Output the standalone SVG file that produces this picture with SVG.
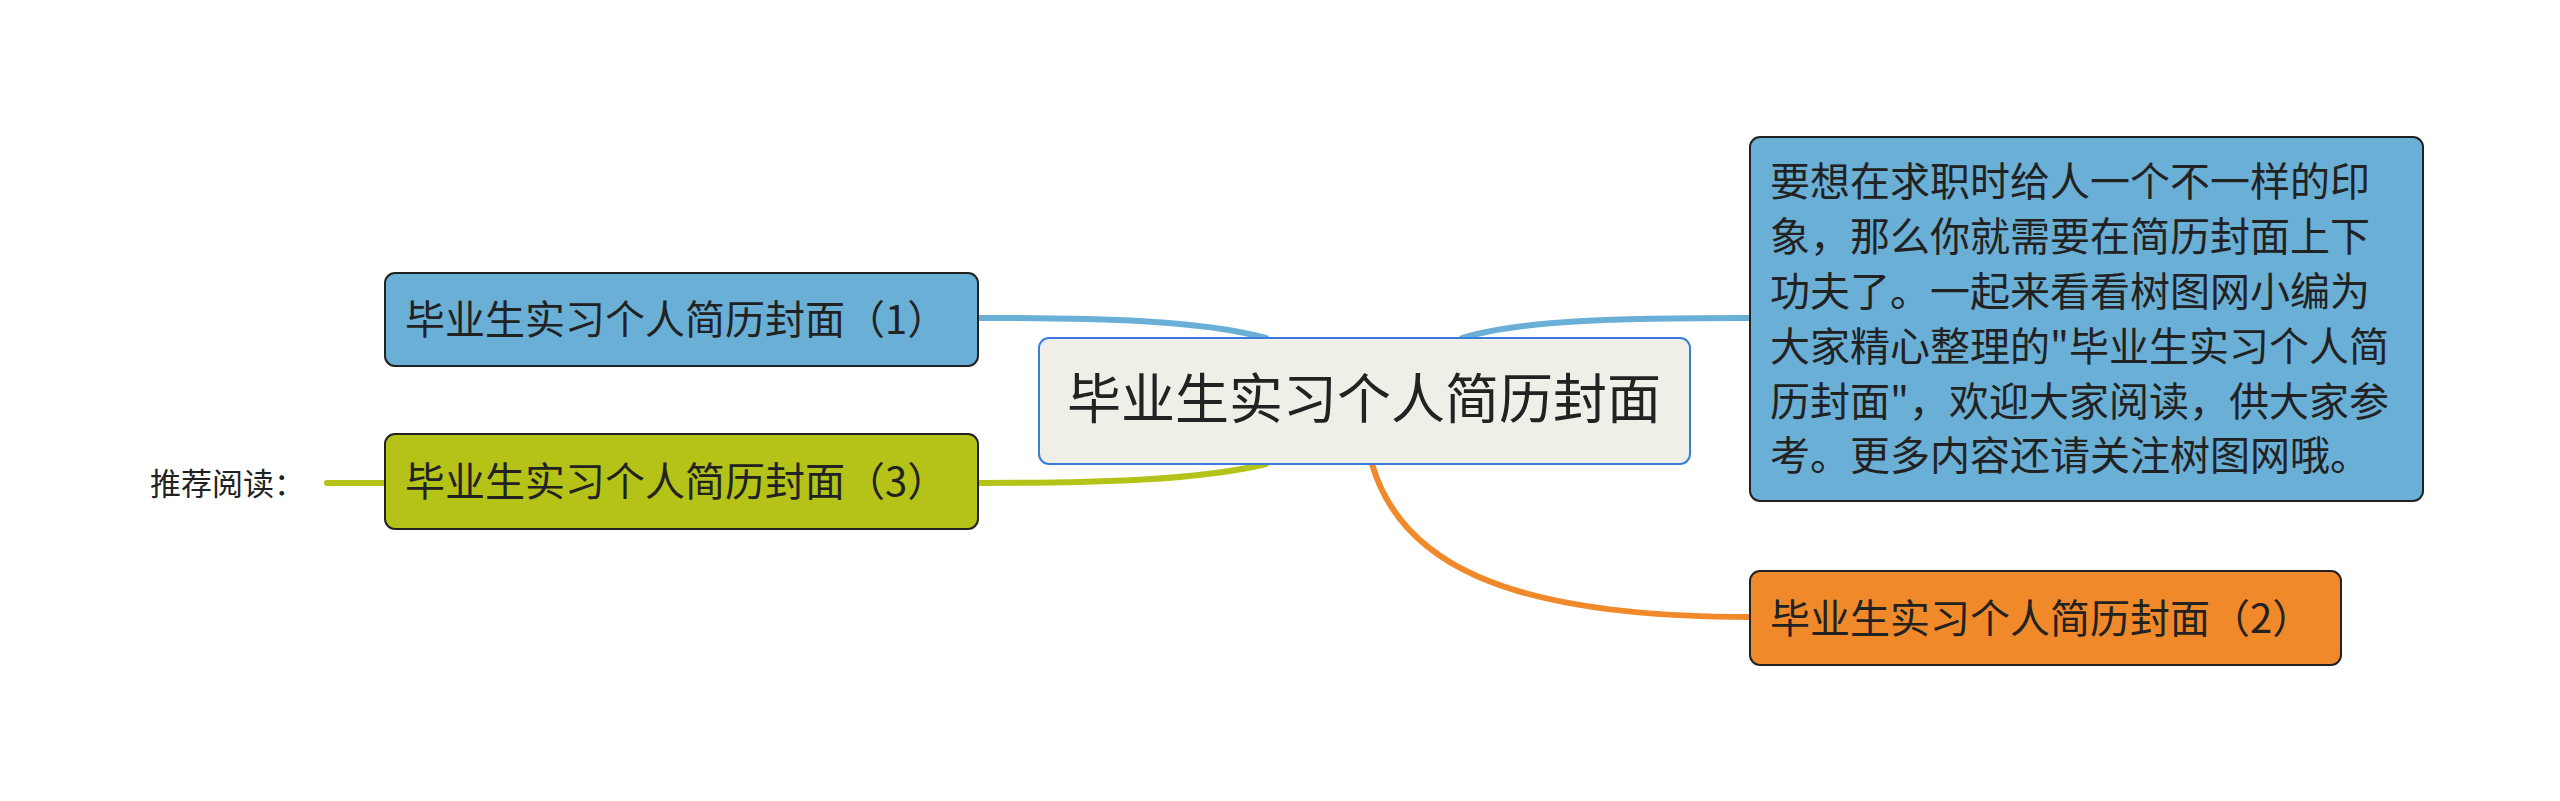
<svg xmlns="http://www.w3.org/2000/svg" width="2560" height="801" viewBox="0 0 2560 801">
<style>
text{font-family:"Noto Sans CJK SC","Noto Sans",sans-serif;fill:#222}
.n{font-size:40px}
.c{fill:none;stroke-width:6;stroke-linecap:round}
</style>
<rect width="2560" height="801" fill="#fff"/>
<g id="connectors">
<path class="c" stroke="#6aafd6" d="M1266,338 C1200,320 1100,318 978,318"/>
<path class="c" stroke="#b5c318" d="M1266,464 C1200,480 1100,483 978,483"/>
<path class="c" stroke="#b5c318" d="M327,483 L385,483"/>
<path class="c" stroke="#6aafd6" d="M1462,338 C1520,320 1620,318 1750,318"/>
<path class="c" stroke="#f0892a" d="M1372,464 C1400,560 1500,617 1750,617"/>
</g>
<g id="center">
<rect x="1039" y="338" width="651" height="126" rx="10" fill="#efefe8" stroke="#3b7ddd" stroke-width="2"/>
<text x="1364" y="419" font-size="54" text-anchor="middle">毕业生实习个人简历封面</text>
</g>
<g id="node1">
<rect x="385" y="273" width="593" height="93" rx="10" fill="#6aafd6" stroke="#222" stroke-width="2"/>
<text class="n" x="405" y="334">毕业生实习个人简历封面（1）</text>
</g>
<g id="node3">
<rect x="385" y="434" width="593" height="95" rx="10" fill="#b5c318" stroke="#222" stroke-width="2"/>
<text class="n" x="405" y="496">毕业生实习个人简历封面（3）</text>
</g>
<g id="label">
<text x="150" y="495" font-size="31">推荐阅读：</text>
</g>
<g id="desc">
<rect x="1750" y="137" width="673" height="364" rx="10" fill="#6aafd6" stroke="#222" stroke-width="2"/>
<text class="n" x="1770" y="196">要想在求职时给人一个不一样的印</text>
<text class="n" x="1770" y="251">象，那么你就需要在简历封面上下</text>
<text class="n" x="1770" y="306">功夫了。一起来看看树图网小编为</text>
<text class="n" x="1770" y="361">大家精心整理的"毕业生实习个人简</text>
<text class="n" x="1770" y="416">历封面"，欢迎大家阅读，供大家参</text>
<text class="n" x="1770" y="470">考。更多内容还请关注树图网哦。</text>
</g>
<g id="node2">
<rect x="1750" y="571" width="591" height="94" rx="10" fill="#f0892a" stroke="#222" stroke-width="2"/>
<text class="n" x="1770" y="633">毕业生实习个人简历封面（2）</text>
</g>
</svg>
